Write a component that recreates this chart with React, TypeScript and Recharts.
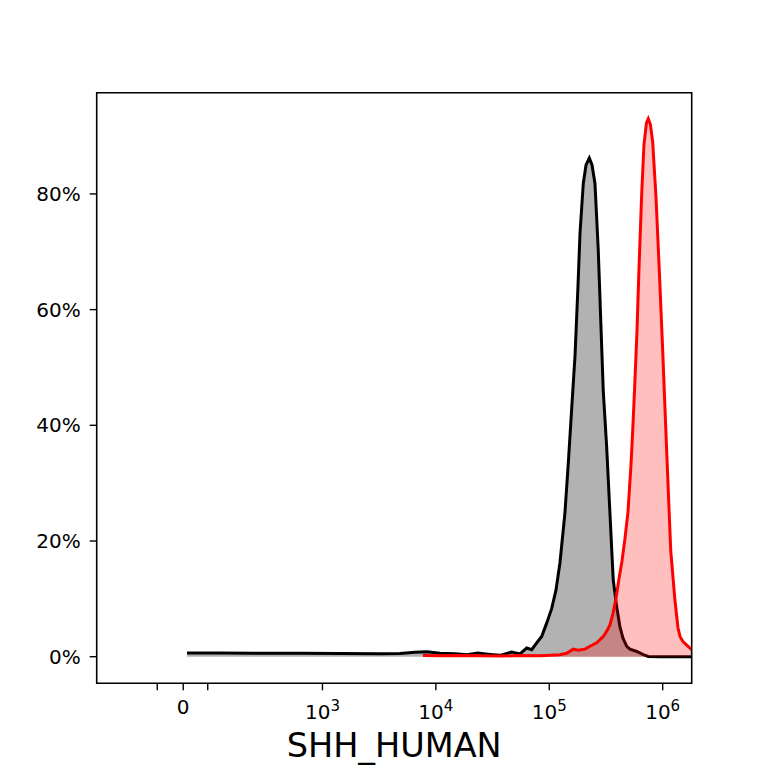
import React from 'react';
import { ComposedChart, Area, XAxis, YAxis, ReferenceArea, Label } from 'recharts';

// x values are positions on the biexponential axis in decades (10^3 -> 3, 10^4 -> 4 ...)
const BLACK_X = [1.805, 2.096, 2.449, 2.802, 3.154, 3.507, 3.683, 3.816, 3.922, 4.036, 4.168, 4.274, 4.371, 4.477, 4.565, 4.668, 4.742, 4.801, 4.845, 4.889, 4.933, 4.977, 5.021, 5.059, 5.094, 5.138, 5.168, 5.198, 5.227, 5.253, 5.271, 5.300, 5.324, 5.353, 5.377, 5.403, 5.432, 5.456, 5.476, 5.506, 5.535, 5.564, 5.594, 5.623, 5.650, 5.683, 5.712, 5.771, 5.829, 5.873, 5.976, 6.256];
const BLACK_Y = [0.65, 0.62, 0.6, 0.58, 0.55, 0.52, 0.55, 0.75, 0.86, 0.6, 0.5, 0.35, 0.64, 0.4, 0.23, 0.8, 0.47, 1.5, 1.2, 2.4, 3.5, 5.8, 8.3, 11.5, 16.2, 24.8, 33.5, 43, 52, 64, 73.2, 81.8, 85, 86.2, 85, 81.8, 70.3, 57, 46, 36.3, 24.8, 13.3, 8.7, 5.2, 3.2, 1.8, 1.3, 0.9, 0.35, 0.05, 0, 0];

const RED_X = [3.886, 4.036, 4.213, 4.389, 4.565, 4.742, 4.918, 5.094, 5.153, 5.212, 5.253, 5.315, 5.359, 5.418, 5.476, 5.509, 5.535, 5.562, 5.588, 5.615, 5.641, 5.668, 5.694, 5.720, 5.738, 5.756, 5.773, 5.791, 5.815, 5.835, 5.857, 5.873, 5.892, 5.912, 5.941, 5.972, 6.000, 6.035, 6.071, 6.108, 6.135, 6.153, 6.179, 6.212, 6.256];
const RED_Y = [0.2, 0.15, 0.2, 0.15, 0.1, 0.2, 0.15, 0.35, 0.6, 1.3, 1.1, 1.3, 1.8, 2.4, 3.5, 4.5, 5.5, 7.5, 10, 13.5, 16.5, 20.5, 25, 33, 40, 48, 56, 67, 80, 88.5, 92.3, 93, 92, 89, 79.5, 66, 53, 35.7, 18.4, 9.8, 5, 3.5, 2.6, 2.0, 1.2];

const X_DOMAIN = [1.009, 6.256];
const Y_DOMAIN = [-4.6, 97.5];
const X_TICKS = [1.543, 1.772, 1.988, 3, 4, 5, 6];
const X_TICK_LABELS = ['', '0', '', '10^3', '10^4', '10^5', '10^6'];
const Y_TICKS = [0, 20, 40, 60, 80];
const X_LABEL = 'SHH_HUMAN';

const FONT = 'DejaVu Sans';

function buildTable() {
  const map = new Map<number, any>();
  BLACK_X.forEach((x, i) => {
    const r = map.get(x) ?? { x };
    r.black = BLACK_Y[i];
    map.set(x, r);
  });
  RED_X.forEach((x, i) => {
    const r = map.get(x) ?? { x };
    r.red = RED_Y[i];
    map.set(x, r);
  });
  return Array.from(map.values()).sort((a, b) => a.x - b.x);
}

const data = buildTable();

const XTick = (props: any) => {
  const { x, y, index } = props;
  const label = X_TICK_LABELS[index] ?? '';
  if (!label) return null;
  if (label.includes('^')) {
    const [base, exp] = label.split('^');
    return (
      <text x={x} y={y + 27} textAnchor="middle" fontFamily={FONT} fontSize={20} fill="#000">
        <tspan>{base}</tspan>
        <tspan dy={-8} fontSize={15}>{exp}</tspan>
      </text>
    );
  }
  return (
    <text x={x} y={y + 21.7} textAnchor="middle" fontFamily={FONT} fontSize={20} fill="#000">
      {label}
    </text>
  );
};

export default function App() {
  return (
    <div style={{ position: 'absolute', left: 0, top: 0, width: 768, height: 768, background: '#fff' }}>
      <ComposedChart
        width={768}
        height={768}
        data={data}
        margin={{ top: 92.7, right: 76.3, bottom: 4.7, left: 6.7 }}
      >
        <XAxis
          dataKey="x"
          type="number"
          domain={X_DOMAIN}
          ticks={X_TICKS}
          allowDataOverflow
          interval={0}
          height={80}
          axisLine={false}
          tickSize={7}
          tickMargin={2}
          tickLine={{ stroke: '#000', strokeWidth: 1.4 }}
          tick={<XTick />}
        >
          <Label
            content={(p: any) => {
              const vb = p.viewBox;
              return (
                <text
                  x={vb.x + vb.width / 2}
                  y={756.5}
                  textAnchor="middle"
                  fontFamily={FONT}
                  fontSize={33.5}
                  fill="#000"
                >
                  {X_LABEL}
                </text>
              );
            }}
          />
        </XAxis>
        <YAxis
          type="number"
          domain={Y_DOMAIN}
          ticks={Y_TICKS}
          allowDataOverflow
          width={90}
          axisLine={false}
          tickSize={7}
          tickMargin={9}
          tickLine={{ stroke: '#000', strokeWidth: 1.4 }}
          tickFormatter={(v: number) => `${v}%`}
          tick={{ fontFamily: FONT, fontSize: 20, fill: '#000' }}
        />
        <Area
          type="linear"
          dataKey="black"
          stroke="#000"
          strokeWidth={3}
          fill="#000"
          fillOpacity={0.3}
          connectNulls
          dot={false}
          activeDot={false}
          isAnimationActive={false}
        />
        <Area
          type="linear"
          dataKey="red"
          stroke="#ff0000"
          strokeWidth={3}
          fill="#ff0000"
          fillOpacity={0.25}
          connectNulls
          dot={false}
          activeDot={false}
          isAnimationActive={false}
        />
        <ReferenceArea
          x1={X_DOMAIN[0]}
          x2={X_DOMAIN[1]}
          y1={Y_DOMAIN[0]}
          y2={Y_DOMAIN[1]}
          fill="none"
          fillOpacity={0}
          stroke="#000"
          strokeWidth={1.6}
          ifOverflow="visible"
        />
      </ComposedChart>
    </div>
  );
}
